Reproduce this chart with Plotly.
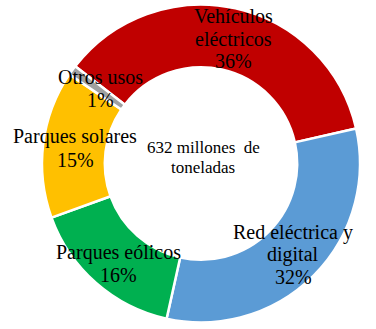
import plotly.graph_objects as go

categories = ["Vehículos eléctricos", "Red eléctrica y digital", "Parques eólicos", "Parques solares", "Otros usos"]
label_lines = [["Vehículos", "eléctricos"], ["Red eléctrica y", "digital"], ["Parques eólicos"], ["Parques solares"], ["Otros usos"]]
values = [36, 32, 16, 15, 1]
colors = ["#C00000", "#5B9BD5", "#00B050", "#FFC000", "#A0A0A0"]
center_lines = ["632 millones\u00a0 de", "toneladas"]

W, H = 376, 329
cx, cy, R = 201, 163.5, 159

fig = go.Figure(go.Pie(
    labels=categories,
    values=values,
    marker=dict(colors=colors, line=dict(color="white", width=2.5)),
    hole=0.605,
    sort=False,
    direction="clockwise",
    rotation=-52.3,
    textinfo="none",
    hoverinfo="label+percent",
    showlegend=False,
    domain=dict(x=[(cx - R) / W, (cx + R) / W],
                y=[(H - cy - R) / H, (H - cy + R) / H]),
))

label_pos = [(233, 16), (293, 232), (118, 252), (75, 137), (100, 77)]
line_gap = 22.5
serif = "Liberation Serif"
font = dict(family=serif, size=20, color="black")

annotations = []
for lines, v, (px, py) in zip(label_lines, values, label_pos):
    all_lines = lines + [f"{v}%"]
    for i, t in enumerate(all_lines):
        y = py + i * line_gap
        annotations.append(dict(text=t, x=px / W, y=1 - y / H, xref="paper", yref="paper",
                                xanchor="center", yanchor="middle", showarrow=False, font=font))

for i, t in enumerate(center_lines):
    y = 147 + i * 20.5
    annotations.append(dict(text=t, x=203 / W, y=1 - y / H, xref="paper", yref="paper",
                            xanchor="center", yanchor="middle", showarrow=False,
                            font=dict(family=serif, size=17, color="black")))

fig.update_layout(width=W, height=H, margin=dict(l=0, r=0, t=0, b=0),
                  paper_bgcolor="white", plot_bgcolor="white", annotations=annotations)

fig.write_html("out.html", config={"displayModeBar": False},
               post_script="document.body.style.margin='0px';")
